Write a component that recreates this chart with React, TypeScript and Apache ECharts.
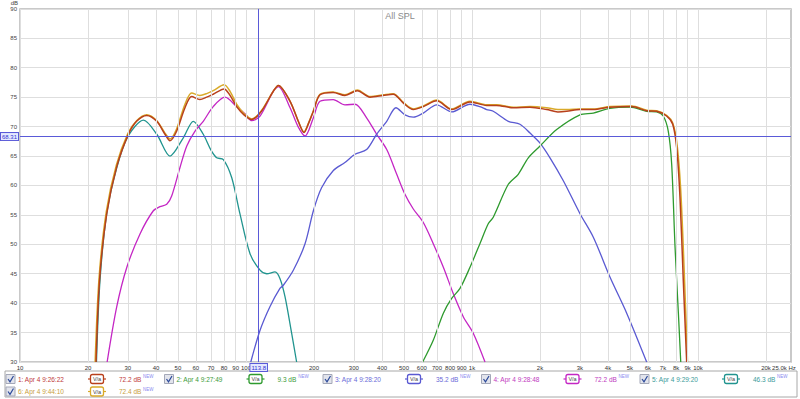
import React, { useEffect, useRef } from "react";
import * as echarts from "echarts";

// ---------- data ----------
const seriesNames = [
  "1: Apr 4 9:26:22",
  "2: Apr 4 9:27:49",
  "3: Apr 4 9:28:20",
  "4: Apr 4 9:28:48",
  "5: Apr 4 9:29:20",
  "6: Apr 4 9:44:10",
];
const legendValues = ["72.2 dB", "9.3 dB", "35.2 dB", "72.2 dB", "46.3 dB", "72.4 dB"];
const smoothingLabel = "V/a";

// series 1 (sum, red)
const s1Freq = [21.7, 22.5, 24.2, 26.8, 30.1, 32.8, 36.4, 40.3, 43.8, 46.1, 49.3, 53.7, 57.5, 62.5, 67, 71.6, 80, 85, 90.9, 98, 106, 117, 132, 139, 156.7, 170, 180.6, 189, 198.7, 212.5, 243, 274, 311, 354, 405, 448, 497, 550, 609, 698, 813, 980, 1161, 1285, 1523, 1806, 2141, 2400, 2624, 3006, 3443, 4083, 5090, 5929, 6561, 7262, 7731, 8050, 8325, 8610, 8913];
const s1Db = [30, 44, 55.2, 63.2, 68.6, 70.9, 71.9, 70.9, 68.7, 67.6, 69.2, 73.2, 75.1, 74.6, 75.0, 75.5, 76.4, 75.3, 73.4, 72.0, 71.2, 72.6, 76.0, 77.0, 74.3, 71.0, 69.0, 70.5, 72.6, 75.4, 75.8, 75.3, 76.1, 75.0, 75.3, 75.5, 74.0, 72.9, 73.4, 74.4, 72.9, 74.2, 73.6, 73.6, 73.2, 73.3, 72.9, 72.5, 72.6, 72.9, 72.9, 73.3, 73.4, 72.7, 72.6, 71.8, 70.4, 66.4, 58.0, 43.9, 30];

// series 6 (sum, gold)
const s6Freq = [21.5, 22.4, 24.1, 26.7, 30.0, 32.8, 36.4, 40.3, 43.8, 46.1, 49.3, 53.7, 57.5, 62.5, 67, 71.6, 80, 85, 90.9, 98, 106, 117, 132, 139, 156.7, 170, 180.6, 189, 198.7, 212.5, 243, 274, 311, 354, 405, 448, 497, 550, 609, 698, 813, 980, 1161, 1285, 1523, 1806, 2141, 2400, 2624, 3006, 3443, 4083, 5090, 5929, 6561, 7262, 7731, 8080, 8380, 8680, 8990];
const s6Db = [30, 44.5, 55.6, 63.5, 68.8, 71.0, 72.0, 71.0, 68.9, 67.9, 69.6, 73.8, 75.7, 75.3, 75.6, 76.1, 77.1, 76.0, 73.8, 72.2, 71.3, 72.7, 76.0, 77.0, 74.3, 71.0, 69.1, 70.6, 72.7, 75.5, 75.9, 75.4, 76.2, 75.1, 75.4, 75.6, 74.1, 73.0, 73.5, 74.5, 73.0, 74.3, 73.7, 73.7, 73.3, 73.4, 73.2, 72.9, 72.9, 73.0, 73.0, 73.4, 73.5, 72.8, 72.7, 71.9, 70.6, 67.0, 59.5, 46.0, 30];

// series 2 (tweeter, green)
const s2Freq = [605, 674, 747, 813, 885, 980, 1084, 1180, 1242, 1448, 1602, 1775, 2000, 2370, 3006, 3443, 4083, 5000, 5929, 6561, 7020, 7390, 7650, 7917, 8190, 8390];
const s2Db = [30, 33.7, 38.3, 40.8, 42.5, 46.1, 50.1, 53.5, 54.6, 60.2, 61.9, 64.7, 66.7, 69.5, 72.0, 72.3, 73.1, 73.3, 72.6, 72.5, 71.8, 69.2, 63.6, 49.5, 38.3, 30];

// series 3 (midrange, blue)
const s3Freq = [105, 115.4, 127.6, 141.3, 146, 162, 182.5, 198.7, 216, 243, 274, 303.6, 341.7, 378.6, 419.5, 461, 505, 550, 609, 698, 813, 980, 1084, 1161, 1242, 1448, 1630, 1806, 2000, 2214, 2536, 3006, 3443, 4083, 4837, 5929];
const s3Db = [30, 35.4, 39.4, 42.5, 43.0, 45.6, 50.1, 55.7, 59.6, 62.5, 63.9, 65.3, 66.1, 68.7, 70.9, 73.2, 72.0, 71.6, 72.3, 73.7, 72.5, 73.8, 73.4, 72.9, 72.6, 70.9, 70.4, 68.9, 67.2, 64.7, 60.8, 55.2, 51.2, 44.4, 38.3, 30];

// series 4 (woofer, magenta)
const s4Freq = [24.3, 26.8, 29.7, 34.0, 38.9, 41.6, 44.6, 46.9, 51.0, 54.7, 59.4, 64.7, 71.6, 80.7, 90.9, 100, 106, 115.4, 132, 139, 156.7, 170, 182.5, 198.7, 212.5, 243.3, 274, 303.6, 341.7, 378.6, 419.5, 464.5, 505, 550, 609, 674, 747, 827, 915, 1013, 1142];
const s4Db = [30, 39.4, 46.1, 51.8, 55.7, 56.4, 56.8, 58.2, 63.0, 66.7, 69.2, 70.9, 73.4, 75.0, 73.4, 72.0, 71.0, 71.8, 76.0, 76.8, 73.2, 70.0, 68.4, 71.5, 74.3, 74.6, 73.7, 73.8, 71.5, 68.7, 66.1, 61.9, 58.5, 56.0, 53.7, 50.1, 46.1, 41.6, 37.7, 34.9, 30];

// series 5 (sub, teal)
const s5Freq = [21.8, 22.6, 24.2, 26.8, 30.1, 35.2, 40.3, 46.1, 52.8, 58.5, 64.7, 70, 74.2, 79.4, 86.5, 94.0, 104.2, 115.4, 123.5, 134.4, 141.3, 148.8, 159.2, 167.5];
const s5Db = [30, 43.9, 55.2, 63.0, 68.4, 71.1, 68.7, 65.0, 68.1, 70.9, 68.7, 66.0, 64.7, 64.4, 61.3, 55.2, 48.4, 45.6, 45.0, 45.3, 44.2, 41.1, 34.9, 30];

// axis ticks
const xTicks = [10, 20, 30, 40, 50, 60, 70, 80, 90, 100, 200, 300, 400, 500, 600, 700, 800, 900, 1000, 2000, 3000, 4000, 5000, 6000, 7000, 8000, 9000, 10000, 20000];
const xTickLabels = ["10", "20", "30", "40", "50", "60", "70", "80", "90", "100", "200", "300", "400", "500", "600", "700", "800", "900", "1k", "2k", "3k", "4k", "5k", "6k", "7k", "8k", "9k", "10k", "20k"];
const xEndValue = 25000;
const xEndLabel = "25.0k Hz";
const cursorFreq = 113.8;
const cursorDb = 68.31;

// ---------- styling ----------
const lineColors = ["#b8401c", "#2e9a2e", "#5a5ad2", "#c426c4", "#21948f", "#d9aa2a"];
const textColors = ["#c03a3a", "#3a9a3a", "#6a6ad8", "#c03ac0", "#3a9a9a", "#c8a040"];
const FONT = "Liberation Sans, Arial, sans-serif";

const pairs = (f: number[], d: number[]) => f.map((v, i) => [v, d[i]]);

export default function App() {
  const ref = useRef<HTMLDivElement>(null);
  useEffect(() => {
    const chart = echarts.init(ref.current!, null, { renderer: "svg" });

    const dataSets = [
      pairs(s1Freq, s1Db),
      pairs(s2Freq, s2Db),
      pairs(s3Freq, s3Db),
      pairs(s4Freq, s4Db),
      pairs(s5Freq, s5Db),
      pairs(s6Freq, s6Db),
    ];
    const drawOrder = [4, 3, 2, 1, 5, 0];

    const dataSeries = drawOrder.map((i) => ({
      type: "line",
      name: seriesNames[i],
      data: dataSets[i],
      showSymbol: false,
      smooth: 0.3,
      z: 3,
      silent: true,
      lineStyle: { color: lineColors[i], width: i === 0 || i === 5 ? 1.5 : 1.3 },
    }));

    const gridLines = {
      type: "line",
      data: [[10, 30]],
      showSymbol: false,
      lineStyle: { opacity: 0 },
      z: 1,
      silent: true,
      markLine: {
        silent: true,
        symbol: ["none", "none"],
        animation: false,
        lineStyle: { color: "#dedede", width: 1, type: "solid" },
        label: {
          show: true,
          position: "start",
          distance: 3,
          fontSize: 6,
          fontFamily: FONT,
          color: "#333",
        },
        data: [
          ...xTicks.map((v, i) => ({ xAxis: v, label: { formatter: xTickLabels[i] } })),
          {
            xAxis: xEndValue,
            lineStyle: { color: "rgba(255,255,255,0)" },
            label: { formatter: xEndLabel, offset: [-4, 0], color: "#333" },
          },
        ],
      },
    };

    const cursorLabel = {
      show: true,
      position: "start",
      distance: 2,
      fontSize: 6,
      fontFamily: FONT,
      color: "#3434d0",
      backgroundColor: "#e4e8ff",
      borderColor: "#5a5ad8",
      borderWidth: 1,
      padding: [1, 1, 0, 1],
    };
    const cursor = {
      type: "line",
      data: [[10, 30]],
      showSymbol: false,
      lineStyle: { opacity: 0 },
      z: 5,
      silent: true,
      markLine: {
        silent: true,
        symbol: ["none", "none"],
        animation: false,
        lineStyle: { color: "#5a5ad8", width: 1, type: "solid" },
        data: [
          { xAxis: cursorFreq, label: { ...cursorLabel, formatter: String(cursorFreq) } },
          { yAxis: cursorDb, label: { ...cursorLabel, formatter: String(cursorDb) } },
        ],
      },
    };

    // legend graphics
    const legendEls: any[] = [
      {
        type: "rect",
        shape: { x: 5, y: 371, width: 792, height: 26 },
        style: { fill: "#fff", stroke: "#a8a8a8", lineWidth: 1 },
        silent: true,
      },
    ];
    seriesNames.forEach((name, i) => {
      const col = i < 5 ? i : 0;
      const row = i < 5 ? 0 : 1;
      const bx = 6 + col * 158.5;
      const cy = 379 + row * 12.5;
      const c = lineColors[i];
      const tc = textColors[i];
      legendEls.push(
        {
          type: "rect",
          shape: { x: bx, y: cy - 4.5, width: 9, height: 9 },
          style: { fill: "#e2e4ec", stroke: "#a4a8b8", lineWidth: 1 },
          silent: true,
        },
        {
          type: "polyline",
          shape: { points: [[bx + 2, cy], [bx + 4, cy + 2.8], [bx + 7.5, cy - 3]] },
          style: { stroke: "#2c4a9a", lineWidth: 1.2, fill: null },
          silent: true,
        },
        {
          type: "text",
          x: bx + 12,
          y: cy,
          style: { text: name, fill: tc, fontSize: 6.5, fontFamily: FONT, verticalAlign: "middle", align: "left" },
          silent: true,
        },
        {
          type: "line",
          shape: { x1: bx + 82, y1: cy, x2: bx + 100, y2: cy },
          style: { stroke: c, lineWidth: 1.2 },
          silent: true,
        },
        {
          type: "rect",
          shape: { x: bx + 84.5, y: cy - 4.5, width: 13, height: 9, r: 2 },
          style: { fill: "#fff", stroke: c, lineWidth: 1.3 },
          silent: true,
        },
        {
          type: "text",
          x: bx + 91,
          y: cy,
          style: { text: smoothingLabel, fill: "#444", fontSize: 5.5, fontFamily: FONT, verticalAlign: "middle", align: "center" },
          silent: true,
        },
        {
          type: "text",
          x: bx + 113,
          y: cy,
          style: { text: legendValues[i], fill: tc, fontSize: 6.5, fontFamily: FONT, verticalAlign: "middle", align: "left" },
          silent: true,
        },
        {
          type: "text",
          x: bx + 114 + (legendValues[i].length * 3.3),
          y: cy - 2.5,
          style: { text: "NEW", fill: "#8a8af0", fontSize: 4.5, fontFamily: FONT, verticalAlign: "middle", align: "left" },
          silent: true,
        }
      );
    });

    const option: any = {
      animation: false,
      backgroundColor: "#fff",
      title: {
        text: "All SPL",
        left: "center",
        top: 6,
        textStyle: { fontSize: 9, fontWeight: "normal", color: "#8a8a8a", fontFamily: FONT },
      },
      grid: {
        left: 20,
        right: 9,
        top: 7,
        bottom: 37,
        show: true,
        borderColor: "#b8b8b8",
        borderWidth: 1.5,
        backgroundColor: "transparent",
      },
      xAxis: {
        type: "log",
        logBase: 10,
        min: 10,
        max: 25800,
        axisLine: { show: false },
        axisTick: { show: false },
        axisLabel: { show: false },
        splitLine: { show: false },
        minorSplitLine: { show: false },
      },
      yAxis: {
        type: "value",
        min: 30,
        max: 90,
        interval: 5,
        name: "dB",
        nameLocation: "end",
        nameGap: 0,
        nameTextStyle: { fontSize: 6, color: "#444", fontFamily: FONT, align: "right", padding: [0, 2, 0, 0] },
        axisLine: { show: false },
        axisTick: { show: false },
        axisLabel: { fontSize: 6, color: "#444", fontFamily: FONT, margin: 3 },
        splitLine: { lineStyle: { color: "#dedede", width: 1 } },
      },
      series: [gridLines, ...dataSeries, cursor],
      graphic: legendEls,
    };
    chart.setOption(option);
    return () => chart.dispose();
  }, []);
  return (
    <div
      ref={ref}
      style={{ position: "fixed", left: 0, top: 0, width: 800, height: 399, background: "#fff" }}
    />
  );
}
